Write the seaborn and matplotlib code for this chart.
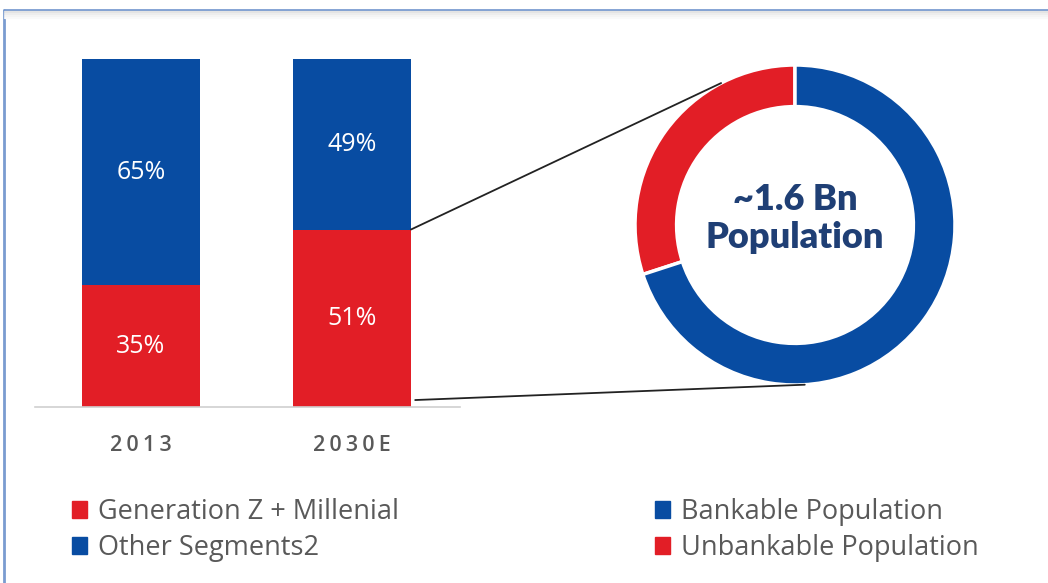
import numpy as np
import pandas as pd
import matplotlib
matplotlib.use("Agg")
import matplotlib.pyplot as plt
from matplotlib.patches import Patch, ConnectionPatch
from matplotlib.lines import Line2D
import seaborn as sns

# Share of population by generation segment
years = ["2013", "2030E"]
gen_z_millenial = [35, 51]
other_segments = [65, 49]

# Split of the ~1.6 Bn population
pie_labels = ["Unbankable Population", "Bankable Population"]
pie_values = [30, 70]
center_text = "~1.6 Bn\nPopulation"

RED = "#E21E26"
BLUE = "#084CA2"
GREY = "#595959"

sns.set_theme(style="white")
plt.rcParams["font.family"] = ["Open Sans", "DejaVu Sans"]

W, H = 1048, 583
fig = plt.figure(figsize=(W / 100, H / 100), dpi=100)
fig.patch.set_facecolor("white")

def px_rect(x0, y0, x1, y1):
    return [x0 / W, 1 - y1 / H, (x1 - x0) / W, (y1 - y0) / H]

# frame lines
fig.add_artist(Line2D([4 / W, 1], [1 - 10 / H, 1 - 10 / H], transform=fig.transFigure,
                      color="#7A9CD0", lw=2))
fig.add_artist(Line2D([4 / W, 4 / W], [0, 1 - 10 / H], transform=fig.transFigure,
                      color="#7A9CD0", lw=2))
for k, c in enumerate(["#E4E4E4", "#EDEDED", "#F4F4F4", "#F9F9F9"]):
    fig.add_artist(Line2D([5 / W, 1], [1 - (12 + 2 * k) / H] * 2, transform=fig.transFigure,
                          color=c, lw=1.6))

# stacked bars
ax = fig.add_axes(px_rect(35, 59, 460, 407))
df = pd.DataFrame({"year": years,
                   "gen": gen_z_millenial,
                   "total": np.array(gen_z_millenial) + np.array(other_segments)})
bw = 118 / 211
sns.barplot(data=df, x="year", y="total", color=BLUE, width=bw, saturation=1,
            ax=ax, linewidth=0)
sns.barplot(data=df, x="year", y="gen", color=RED, width=bw, saturation=1,
            ax=ax, linewidth=0)
ax.set_ylim(0, 100)
ax.set_xlim(-0.502, 1.512)
ax.set_xlabel("")
ax.set_ylabel("")
ax.set_yticks([])
ax.set_xticks([])
for s in ["top", "right", "left"]:
    ax.spines[s].set_visible(False)
ax.spines["bottom"].set_color("#D0D0D0")
ax.spines["bottom"].set_linewidth(1.2)
ax.patch.set_alpha(0)

for i, yr in enumerate(years):
    g, o = gen_z_millenial[i], other_segments[i]
    ax.text(i, g / 2, f"{g}%", ha="center", va="center", color="white", fontsize=18)
    ax.text(i, g + o / 2, f"{o}%", ha="center", va="center", color="white", fontsize=18)
    ax.text(i, -11.0, " ".join(yr).replace(" ", "\u2009"),
            ha="center", va="center", color=GREY, fontsize=15.5, fontweight="semibold",
            clip_on=False)

# donut
pax = fig.add_axes(px_rect(635, 65, 955, 385))
pax.pie(pie_values, colors=[RED, BLUE], startangle=90, counterclock=True, radius=1,
        wedgeprops=dict(width=0.26, edgecolor="white", linewidth=2.5))
pax.set_xlim(-1, 1)
pax.set_ylim(-1, 1)
pax.set_aspect("equal")
pax.axis("off")
pax.text(0, 0.04, center_text, ha="center", va="center", color="#1F3F75",
         fontsize=26, fontweight="heavy", family=["Lato", "DejaVu Sans"],
         linespacing=1.2)

# connectors from the 2030E bar to the donut
for (bx, by), ang in [((1 + bw / 2, gen_z_millenial[1]), 117.5), ((1 + bw / 2 + 0.02, 2), -86.5)]:
    t = np.deg2rad(ang)
    con = ConnectionPatch(xyA=(bx, by), coordsA=ax.transData,
                          xyB=(np.cos(t), np.sin(t)), coordsB=pax.transData,
                          color="#222222", lw=1.3)
    fig.add_artist(con)

# legends
common = dict(loc="upper left", frameon=False, fontsize=19.5, handlelength=0.55,
              handleheight=0.55, handletextpad=0.4, labelspacing=0.3,
              labelcolor=GREY, borderpad=0, borderaxespad=0)
fig.legend(handles=[Patch(color=RED, label="Generation Z + Millenial"),
                    Patch(color=BLUE, label="Other Segments2")],
           bbox_to_anchor=(72 / W, 1 - 498 / H), **common)
fig.legend(handles=[Patch(color=BLUE, label="Bankable Population"),
                    Patch(color=RED, label="Unbankable Population")],
           bbox_to_anchor=(655 / W, 1 - 498 / H), **common)

fig.savefig("out.png", dpi=100)
